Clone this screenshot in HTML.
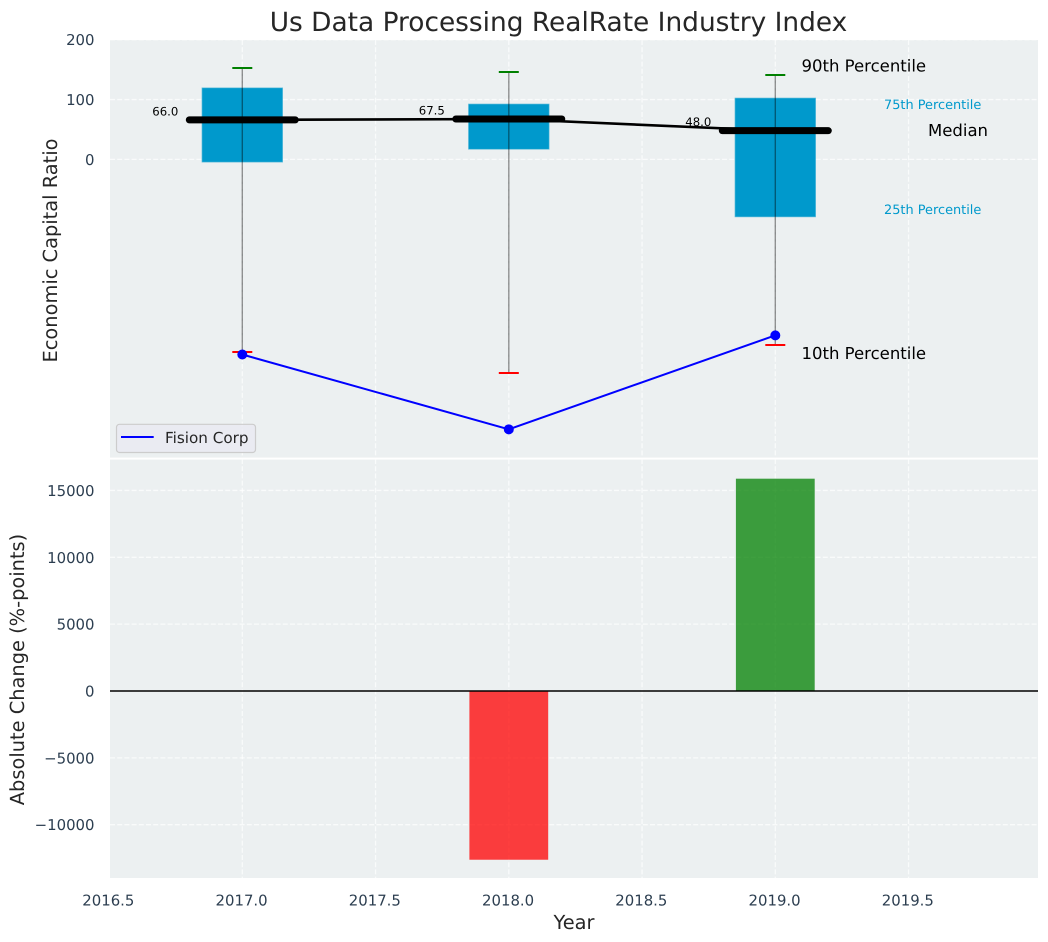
<!DOCTYPE html>
<html lang="en">
<head>
<meta charset="utf-8">
<title>Us Data Processing RealRate Industry Index</title>
<style>
html,body{margin:0;padding:0;background:#fff;width:1048px;height:942px;overflow:hidden}
svg{display:block;font-family:"DejaVu Sans","Liberation Sans",sans-serif;text-rendering:geometricPrecision}
</style>
</head>
<body>
<svg id="chart" xmlns="http://www.w3.org/2000/svg" width="1048" height="942" viewBox="0 0 1048 942">
  <defs>
    <clipPath id="clip-top"><rect x="110" y="40" width="928" height="417.6"/></clipPath>
    <clipPath id="clip-bottom"><rect x="110" y="459.6" width="928" height="418.4"/></clipPath>
  </defs>
  <text x="558.5" y="31" text-anchor="middle" font-size="26.4" fill="#262626">Us Data Processing RealRate Industry Index</text>
  <rect x="110" y="40" width="928" height="417.6" fill="#ecf0f1"/>
  <rect x="110" y="459.6" width="928" height="418.4" fill="#ecf0f1"/>
  <g id="top-grid" clip-path="url(#clip-top)"></g>
  <g id="bottom-grid" clip-path="url(#clip-bottom)"></g>
  <g id="top-marks" clip-path="url(#clip-top)"></g>
  <g id="bottom-marks" clip-path="url(#clip-bottom)"></g>
  <g id="tick-labels"></g>
  <text x="801.5" y="71.7" font-size="16.5" fill="#000">90th Percentile</text>
  <text x="884" y="109" font-size="12.9" fill="#0099cc">75th Percentile</text>
  <text x="928" y="136" font-size="16.5" fill="#000">Median</text>
  <text x="884" y="214" font-size="12.9" fill="#0099cc">25th Percentile</text>
  <text x="801.5" y="359" font-size="16.5" fill="#000">10th Percentile</text>
  <text transform="translate(57,250.5) rotate(-90)" text-anchor="middle" font-size="19.4" fill="#262626">Economic Capital Ratio</text>
  <text transform="translate(24,669.5) rotate(-90)" text-anchor="middle" font-size="19.4" fill="#262626">Absolute Change (%-points)</text>
  <text x="574" y="929" text-anchor="middle" font-size="19.4" fill="#262626">Year</text>
  <g>
    <rect x="116.5" y="424.3" width="139" height="28.2" rx="3" fill="#eaeaf2" fill-opacity="0.8" stroke="#cccccc" stroke-width="1.2"/>
    <line x1="121" x2="153.7" y1="437" y2="437" stroke="#0000ff" stroke-width="2"/>
    <text x="165" y="442.8" font-size="15.2" fill="#262626">Fision Corp</text>
  </g>
</svg>
<script>
const years = [2017, 2018, 2019];
const p10 = [-322, -357, -310];
const p25 = [-4, 17.5, -95.5];
const medians = [66.0, 67.5, 48.0];
const p75 = [119, 92, 102];
const p90 = [153, 146, 141];
const fisionCorp = [-326, -451, -294];
const absChange = [0, -12620, 15880];
const xTicks = [2016.5, 2017, 2017.5, 2018, 2018.5, 2019, 2019.5];
const xTickLabels = ['2016.5', '2017.0', '2017.5', '2018.0', '2018.5', '2019.0', '2019.5'];
const yTopTicks = [200, 100, 0];
const yBottomTicks = [15000, 10000, 5000, 0, -5000, -10000];

const NS = 'http://www.w3.org/2000/svg';
const x = v => 242.3 + 266.5 * (v - 2017);
const yTop = v => 159.4 - 0.5985 * v;
const yBottom = v => 691 - 0.01337 * v;

function make(parent, tag, props, text) {
  const el = document.createElementNS(NS, tag);
  for (const k in props) el.setAttribute(k, props[k]);
  if (text !== undefined) el.textContent = text;
  parent.appendChild(el);
  return el;
}

const topGrid = document.getElementById('top-grid');
const bottomGrid = document.getElementById('bottom-grid');
const topMarks = document.getElementById('top-marks');
const bottomMarks = document.getElementById('bottom-marks');
const tickLabels = document.getElementById('tick-labels');
const gridStyle = {stroke: '#ffffff', 'stroke-width': 1.3, 'stroke-dasharray': '5 2.2', 'stroke-opacity': 0.7};

xTicks.forEach((t, i) => {
  const a = make(topGrid, 'line', {x1: x(t), x2: x(t), y1: 40, y2: 458, ...gridStyle});
  
  
  const b = make(bottomGrid, 'line', {x1: x(t), x2: x(t), y1: 459, y2: 878, ...gridStyle});
  
  
  const label = make(tickLabels, 'text', {x: x(t) - 0.7, y: 905.3, 'text-anchor': 'middle', 'font-size': 14.9, fill: '#2c3e50'}, xTickLabels[i]);
  
  
});

yTopTicks.forEach(t => {
  const g = make(topGrid, 'line', {x1: 110, x2: 1038, y1: yTop(t), y2: yTop(t), ...gridStyle});
  
  
  const label = make(tickLabels, 'text', {x: 94.5, y: yTop(t) + 5.5, 'text-anchor': 'end', 'font-size': 14.9, fill: '#2c3e50'}, String(t));
  
  
});

yBottomTicks.forEach(t => {
  const g = make(bottomGrid, 'line', {x1: 110, x2: 1038, y1: yBottom(t), y2: yBottom(t), ...gridStyle});
  
  
  const text = t < 0 ? '\u2212' + Math.abs(t) : String(t);
  const label = make(tickLabels, 'text', {x: 94.5, y: yBottom(t) + 5.5, 'text-anchor': 'end', 'font-size': 14.9, fill: '#2c3e50'}, text);
  
  
});

years.forEach((yr, i) => {
  const cx = x(yr);
  const box = make(topMarks, 'rect', {x: cx - 40, y: yTop(p75[i]), width: 80, height: yTop(p25[i]) - yTop(p75[i]), fill: '#0099cc', stroke: '#0099cc', 'stroke-opacity': 0.6, 'stroke-width': 1.3});
  
  
});

years.forEach((yr, i) => {
  const cx = x(yr);
  const label = make(topMarks, 'text', {x: cx - 90, y: yTop(medians[i]) - 4.5, 'font-size': 11.7, fill: '#000'}, medians[i].toFixed(1));
  
  
});

const medianTrend = make(topMarks, 'polyline', {points: years.map((yr, i) => x(yr) + ',' + yTop(medians[i])).join(' '), fill: 'none', stroke: '#000', 'stroke-width': 2.6});



years.forEach((yr, i) => {
  const cx = x(yr);
  const med = make(topMarks, 'line', {x1: cx - 53, x2: cx + 53, y1: yTop(medians[i]), y2: yTop(medians[i]), stroke: '#000', 'stroke-width': 7, 'stroke-linecap': 'round'});
  
  
  const whisker = make(topMarks, 'line', {x1: cx, x2: cx, y1: yTop(p90[i]), y2: yTop(p10[i]), stroke: '#000', 'stroke-opacity': 0.42, 'stroke-width': 1.4});
  
  
  const capHigh = make(topMarks, 'line', {x1: cx - 10, x2: cx + 10, y1: Math.round(yTop(p90[i])), y2: Math.round(yTop(p90[i])), stroke: '#008000', 'stroke-width': 2});
  
  
  const capLow = make(topMarks, 'line', {x1: cx - 10, x2: cx + 10, y1: Math.round(yTop(p10[i])), y2: Math.round(yTop(p10[i])), stroke: '#ff0000', 'stroke-width': 2});
  
  
});

const fisionLine = make(topMarks, 'polyline', {points: years.map((yr, i) => x(yr) + ',' + yTop(fisionCorp[i])).join(' '), fill: 'none', stroke: '#0000ff', 'stroke-width': 2});



years.forEach((yr, i) => {
  const pt = make(topMarks, 'circle', {cx: x(yr), cy: yTop(fisionCorp[i]), r: 5, fill: '#0000ff'});
  
  
});

years.forEach((yr, i) => {
  const v = absChange[i];
  if (v === 0) return;
  const top = Math.min(yBottom(v), yBottom(0));
  const bar = make(bottomMarks, 'rect', {x: x(yr) - 39.4, y: top, width: 78.8, height: Math.abs(yBottom(v) - yBottom(0)), fill: v < 0 ? '#ff0000' : '#008000', 'fill-opacity': 0.75});
  
  
});

const zeroLine = make(bottomMarks, 'line', {x1: 110, x2: 1038, y1: 691, y2: 691, stroke: '#000', 'stroke-width': 1.4});


</script>
</body>
</html>
